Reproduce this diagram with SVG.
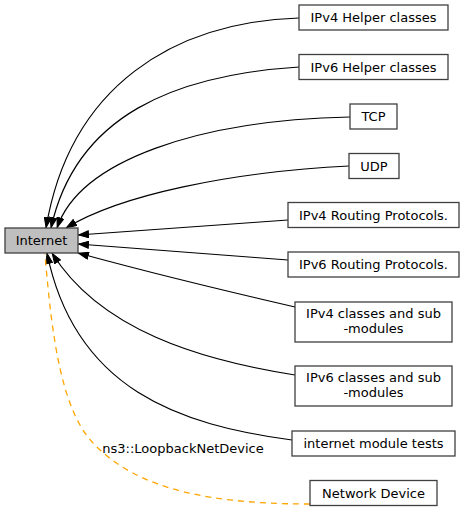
<svg xmlns="http://www.w3.org/2000/svg" width="465" height="511" viewBox="0 0 465 511">
<style>
.node rect{fill:#ffffff;stroke:#404040;stroke-width:1.3}
#n-internet rect{fill:#bfbfbf}
text{font-family:"DejaVu Sans","Liberation Sans",sans-serif;font-size:13px;fill:#000;text-anchor:middle}
.edge{fill:none;stroke:#000;stroke-width:1.2;marker-end:url(#ah)}
.dep{fill:none;stroke:#ffa500;stroke-width:1.3;stroke-dasharray:6,5}
</style>
<defs>
<marker id="ah" viewBox="0 0 11 8" refX="11" refY="4" markerWidth="11" markerHeight="8" markerUnits="userSpaceOnUse" orient="auto">
<path d="M0.5,0.5 L10.5,4 L0.5,7.5 z" fill="#000" stroke="#000" stroke-width="1"/>
</marker>
</defs>
<g id="connectors">
<path class="edge" d="M299,18 C175,22 70,85 46,228"/>
<path class="edge" d="M299,67 C175,75 76,115 51,228"/>
<path class="edge" d="M350,117 C200,120 80,160 57,228"/>
<path class="edge" d="M349,166 C230,172 120,195 66,228"/>
<path class="edge" d="M288,220 L78,235"/>
<path class="edge" d="M288,260 L78,244"/>
<path class="edge" d="M295,307 C230,292 140,270 78,253"/>
<path class="edge" d="M295,375 C200,360 100,330 52,253"/>
<path class="edge" d="M292,440 C180,425 75,390 47,253"/>
<path class="dep" d="M310,504 C190,504 130,482 93,443 C62,410 52,340 45,254"/>
<text x="183" y="453">ns3::LoopbackNetDevice</text>
</g>
<g id="n-internet" class="node"><rect x="5" y="228" width="73" height="25"/><text x="41.5" y="245">Internet</text></g>
<g id="n-ipv4helper" class="node"><rect x="299" y="5" width="149" height="25"/><text x="373.5" y="22">IPv4 Helper classes</text></g>
<g id="n-ipv6helper" class="node"><rect x="299" y="54.5" width="149" height="25"/><text x="373.5" y="71.5">IPv6 Helper classes</text></g>
<g id="n-tcp" class="node"><rect x="350" y="104" width="47" height="25"/><text x="373.5" y="121">TCP</text></g>
<g id="n-udp" class="node"><rect x="349" y="153.5" width="50" height="25"/><text x="374" y="170.5">UDP</text></g>
<g id="n-ipv4routing" class="node"><rect x="288" y="202.5" width="171" height="25"/><text x="373.5" y="219.5">IPv4 Routing Protocols.</text></g>
<g id="n-ipv6routing" class="node"><rect x="288" y="252" width="171" height="25"/><text x="373.5" y="269">IPv6 Routing Protocols.</text></g>
<g id="n-ipv4classes" class="node"><rect x="295" y="302" width="157" height="40"/><text x="373.5" y="318">IPv4 classes and sub</text><text x="373.5" y="333">-modules</text></g>
<g id="n-ipv6classes" class="node"><rect x="295" y="366" width="157" height="40"/><text x="373.5" y="382">IPv6 classes and sub</text><text x="373.5" y="397">-modules</text></g>
<g id="n-tests" class="node"><rect x="292" y="431" width="163" height="25"/><text x="373.5" y="448">internet module tests</text></g>
<g id="n-netdevice" class="node"><rect x="310" y="480.5" width="127" height="25"/><text x="373.5" y="497.5">Network Device</text></g>
</svg>
